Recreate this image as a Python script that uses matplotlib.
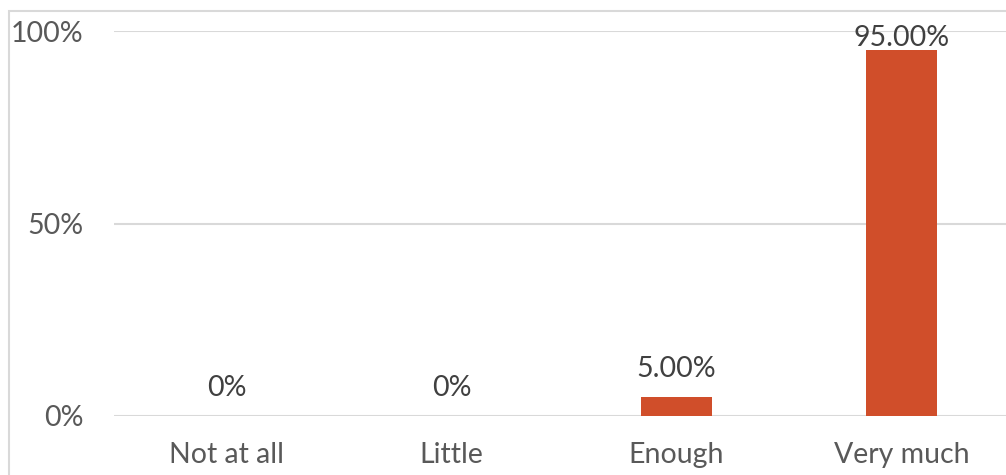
import matplotlib.pyplot as plt
from matplotlib.patches import Rectangle

categories = ['Not at all', 'Little', 'Enough', 'Very much']
values = [0.0, 0.0, 0.05, 0.95]
labels = ['0%', '0%', '5.00%', '95.00%']
yticks = [0, 0.5, 1.0]
ytick_labels = ['0%', '50%', '100%']

plt.rcParams['font.family'] = ['Lato', 'DejaVu Sans']

W, H = 1006, 475
fig = plt.figure(figsize=(W / 100, H / 100), dpi=100)
ax = fig.add_axes([114 / W, 59 / H, 900 / W, 385 / H])

# outer chart border (cropped on right and bottom)
fig.patches.append(Rectangle((9 / W, -0.1), 2.0, 1.1 - 11 / H,
                             transform=fig.transFigure, fill=False,
                             edgecolor='#d9d9d9', linewidth=1.5))

x = range(len(categories))
bars = ax.bar(x, values, width=0.316, color='#d04e2a', zorder=3)

# labels sit ~20px above the bar, but are kept inside the chart area
gap = 20 / 385
top_limit = 1 - 15 / 385
for b, lab in zip(bars, labels):
    y = min(b.get_height() + gap, top_limit)
    ax.annotate(lab, (b.get_x() + b.get_width() / 2, y),
                xycoords=('data', 'axes fraction'),
                ha='center', va='baseline', fontsize=20.5, color='#404040',
                zorder=4, annotation_clip=False)

ax.set_xlim(-0.5, 3.5)
ax.set_ylim(0, 1.0)
ax.set_yticks(yticks)
ax.set_yticklabels(ytick_labels)
ax.set_xticks(list(x))
ax.set_xticklabels(categories)
ax.grid(axis='y', color='#d9d9d9', linewidth=1.5, zorder=0)
for s in ax.spines.values():
    s.set_visible(False)
ax.tick_params(axis='both', length=0, labelsize=20.5, labelcolor='#595959')
ax.tick_params(axis='y', pad=22)
ax.tick_params(axis='x', pad=19)

fig.savefig('out.png', dpi=100)
